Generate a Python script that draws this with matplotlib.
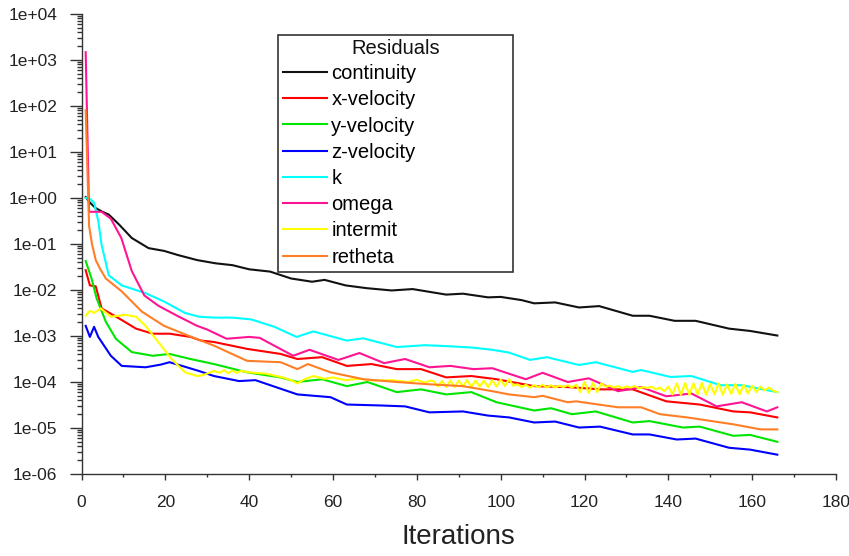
import numpy as np
import matplotlib.pyplot as plt
from matplotlib.ticker import MultipleLocator, LogLocator, FuncFormatter, NullFormatter
from matplotlib.patches import Rectangle

plt.rcParams['font.family'] = ['Liberation Sans', 'DejaVu Sans']

# residual histories, values stored as log10(residual)
cont_it = [1, 2, 3.4, 5, 6.5, 9, 12, 16, 19.7, 23, 27.6, 32, 36, 40, 45, 50, 55, 58, 63, 68, 74, 79, 87,
           91, 97, 100, 105, 108, 113, 118.7, 123.5, 131.5, 135.5, 141.5, 146.5, 154.5, 159.5, 166]
cont_lg = [0.02, -0.1, -0.22, -0.3, -0.36, -0.58, -0.87, -1.09, -1.15, -1.24, -1.35, -1.42, -1.46, -1.55,
           -1.6, -1.75, -1.82, -1.78, -1.9, -1.96, -2.01, -1.98, -2.1, -2.08, -2.16, -2.15, -2.22, -2.29,
           -2.27, -2.38, -2.35, -2.56, -2.56, -2.67, -2.67, -2.84, -2.89, -2.99]

xvel_it = [1, 2, 3.4, 4.8, 9, 13, 17, 21, 26, 28.5, 31.6, 39.5, 47.5, 51.5, 57.4, 63.3, 69.2, 75.2, 81,
           87, 93, 99, 108, 116, 124, 131.5, 139.5, 147.5, 155.5, 159.5, 166]
xvel_lg = [-1.57, -1.9, -1.92, -2.4, -2.62, -2.84, -2.95, -2.95, -3.02, -3.1, -3.13, -3.28, -3.39, -3.5,
           -3.46, -3.65, -3.61, -3.72, -3.72, -3.9, -3.87, -3.94, -4.09, -4.11, -4.16, -4.16, -4.42, -4.49,
           -4.64, -4.66, -4.77]

yvel_it = [1, 2.4, 3.6, 5.8, 8.2, 12, 17, 21, 26, 31.6, 39.5, 47.5, 51.5, 57.4, 63.3, 68.2, 75.2, 81, 87,
           93, 99, 108, 112, 117, 122.7, 131.5, 135.5, 143.5, 147.5, 155.5, 159.5, 166]
yvel_lg = [-1.37, -1.75, -2.18, -2.69, -3.06, -3.35, -3.43, -3.39, -3.5, -3.61, -3.79, -3.9, -4.0, -3.94,
           -4.09, -4.0, -4.22, -4.16, -4.27, -4.22, -4.44, -4.62, -4.57, -4.7, -4.64, -4.88, -4.85, -4.99,
           -4.97, -5.17, -5.15, -5.3]

zvel_it = [1, 2, 3, 4, 7, 9.6, 15.3, 19, 21, 24, 28, 31.6, 37.6, 41.5, 51.5, 59.4, 63.3, 71.3, 77.2, 83,
           91, 97, 102, 108, 113, 118.7, 123.7, 131.5, 135.5, 142, 146.5, 154.5, 159.5, 166]
zvel_lg = [-2.78, -3.02, -2.8, -3.02, -3.43, -3.65, -3.68, -3.62, -3.57, -3.65, -3.76, -3.87, -3.98, -3.96,
           -4.27, -4.33, -4.49, -4.51, -4.53, -4.66, -4.64, -4.73, -4.77, -4.88, -4.86, -4.99, -4.97, -5.14,
           -5.14, -5.25, -5.23, -5.43, -5.47, -5.58]

k_it = [1, 2, 3, 4, 4.8, 6.5, 9.6, 15.3, 19.7, 24.7, 28, 31.6, 36, 40.5, 46, 51.3, 55.3, 63.3, 67.2, 75.2,
        82, 87, 93, 98, 102, 107, 111, 118.7, 122.7, 131.5, 133.5, 140.5, 145.5, 152.5, 157.5, 162.5, 166]
k_lg = [0.0, -0.02, -0.1, -0.5, -1.02, -1.68, -1.9, -2.07, -2.25, -2.5, -2.58, -2.6, -2.6, -2.64, -2.8,
        -3.02, -2.9, -3.1, -3.05, -3.24, -3.2, -3.22, -3.25, -3.3, -3.36, -3.52, -3.46, -3.63, -3.57, -3.78,
        -3.74, -3.89, -3.87, -4.07, -4.07, -4.16, -4.22]

omega_it = [1, 1.8, 4.8, 7, 9.5, 12, 15, 18.3, 22.8, 27.6, 30, 34.6, 40, 42.5, 50.5, 54.4, 61.3, 66.3, 72.2,
            77.2, 83, 88, 93.5, 98, 106, 110, 116, 121, 128, 133.5, 139.5, 145.5, 151.5, 157.5, 163.5, 166]
omega_lg = [3.17, -0.3, -0.3, -0.45, -0.87, -1.59, -2.12, -2.34, -2.56, -2.78, -2.86, -3.06, -3.02, -3.04,
            -3.43, -3.3, -3.52, -3.37, -3.59, -3.5, -3.68, -3.65, -3.72, -3.7, -3.94, -3.8, -4.0, -3.92,
            -4.2, -4.11, -4.31, -4.25, -4.53, -4.44, -4.64, -4.55]

inter_it = [1, 2, 3, 4.6, 7, 10.5, 13, 15.3, 18.3, 21.5, 24.7, 27.6, 29, 31.6, 33, 34, 35, 36, 37, 38, 40,
            44, 48, 50, 51.5, 53, 55.3, 58, 60, 63, 66, 70, 74, 78, 80, 82, 83,
            84, 85, 86, 87, 88, 89, 90, 91, 92, 93, 94, 95, 96, 97, 98, 99, 100, 101, 102, 103,
            104, 105, 106, 107, 108, 109, 110, 111, 112, 113, 114, 115, 116, 117, 118,
            119, 120, 121, 122, 123, 124,
            125, 126, 127, 128, 129, 130, 131, 132, 133, 134, 135, 136, 137, 138, 139, 140,
            141, 142, 143, 144, 145, 146, 147, 148, 149, 150, 151, 152, 153, 154, 155, 156, 157, 158,
            159, 160, 161, 162, 163, 164, 165, 166]
inter_lg = [-2.56, -2.45, -2.5, -2.4, -2.58, -2.54, -2.58, -2.78, -3.13, -3.5, -3.79, -3.87, -3.85, -3.76,
            -3.8, -3.74, -3.81, -3.75, -3.8, -3.76, -3.79, -3.82, -3.9, -3.96, -4.03, -3.95, -3.87, -3.93,
            -3.9, -3.96, -3.93, -3.97, -3.96, -4.0, -3.95, -4.02, -3.97,
            -3.98, -4.10, -3.98, -4.11, -3.97, -4.11, -3.97, -4.10, -3.96, -4.11, -3.97, -4.10, -3.97,
            -4.11, -3.96, -4.10, -3.95, -4.09, -3.94, -4.08,
            -4.05, -4.11, -4.06, -4.12, -4.07, -4.11, -4.06, -4.12, -4.07, -4.12, -4.08, -4.11, -4.07,
            -4.12, -4.06,
            -4.22, -4.00, -4.24, -4.01, -4.22, -4.03,
            -4.10, -4.08, -4.12, -4.09, -4.13, -4.10, -4.12, -4.09, -4.14, -4.11, -4.13, -4.10, -4.16,
            -4.12, -4.20, -4.10,
            -4.27, -4.03, -4.28, -4.02, -4.28, -4.03, -4.27, -4.02, -4.28, -4.04, -4.27, -4.03, -4.28,
            -4.05, -4.26, -4.04, -4.27, -4.06, -4.25, -4.08, -4.22, -4.10, -4.18, -4.12, -4.19, -4.22]

ret_it = [1, 1.8, 2.5, 3.4, 4.5, 5.8, 9.6, 14.4, 19.7, 25.7, 31.6, 39.5, 47.5, 51.5, 54, 59.4, 67.3, 75.2,
          83, 91, 98, 102, 108, 110, 116, 118, 128, 133.5, 138, 144.5, 155.5, 162, 166]
ret_lg = [1.91, -0.6, -1.0, -1.35, -1.55, -1.75, -2.03, -2.47, -2.78, -3.0, -3.21, -3.54, -3.57, -3.72,
          -3.61, -3.79, -3.94, -4.0, -4.05, -4.09, -4.2, -4.27, -4.33, -4.3, -4.44, -4.42, -4.55, -4.55,
          -4.7, -4.77, -4.92, -5.03, -5.03]

series = [
    ('continuity', cont_it, cont_lg, '#111111'),
    ('x-velocity', xvel_it, xvel_lg, '#ff0000'),
    ('y-velocity', yvel_it, yvel_lg, '#00e600'),
    ('z-velocity', zvel_it, zvel_lg, '#0000ff'),
    ('k', k_it, k_lg, '#00ffff'),
    ('omega', omega_it, omega_lg, '#ff1493'),
    ('intermit', inter_it, inter_lg, '#ffff00'),
    ('retheta', ret_it, ret_lg, '#ff7f27'),
]

fig = plt.figure(figsize=(8.49, 5.56), dpi=100)
ax = fig.add_axes([81.5 / 849, 1 - 474 / 556, (836 - 81.5) / 849, (474 - 14) / 556])

for name, it, lg, col in series:
    ax.plot(it, 10 ** np.array(lg), color=col, lw=1.5, label=name)

ax.set_yscale('log')
ax.set_ylim(1e-6, 1e4)
ax.set_xlim(0, 180)
ax.xaxis.set_major_locator(MultipleLocator(20))
ax.xaxis.set_minor_locator(MultipleLocator(10))
ax.yaxis.set_major_locator(LogLocator(base=10, numticks=20))
ax.yaxis.set_minor_locator(LogLocator(base=10, subs=np.arange(2, 10), numticks=20))
ax.yaxis.set_minor_formatter(NullFormatter())
ax.yaxis.set_major_formatter(FuncFormatter(lambda v, p: f'{v:.0e}'))

for s in ['top', 'right']:
    ax.spines[s].set_visible(False)
for s in ['left', 'bottom']:
    ax.spines[s].set_color('#333333')
    ax.spines[s].set_linewidth(1.0)

ax.tick_params(axis='y', which='major', length=8.4, width=1.0, pad=9, labelsize=12.5,
               color='#333333', labelcolor='#222222')
ax.tick_params(axis='y', which='minor', length=3.6, width=1.0, color='#333333')
ax.tick_params(axis='x', which='major', length=4.3, width=1.0, pad=11, labelsize=12.5,
               color='#333333', labelcolor='#222222')
ax.tick_params(axis='x', which='minor', length=2.2, width=1.0, color='#333333')

ax.set_xlabel('Iterations', fontsize=20, labelpad=10, color='#222222')

ax.legend(loc='upper left', bbox_to_anchor=(283 / 849, 1 - 64 / 556), bbox_transform=fig.transFigure,
          frameon=False, fontsize=14.5, handlelength=2.2, handletextpad=0.2, labelspacing=0.36,
          borderpad=0, borderaxespad=0)
fig.add_artist(Rectangle((278 / 849, 1 - 272 / 556), (513 - 278) / 849, (272 - 35) / 556,
                         transform=fig.transFigure, fill=False, ec='#333333', lw=1.2))
fig.text(396 / 849, 1 - 48 / 556, 'Residuals', ha='center', va='center', fontsize=14.5, color='#111111')

fig.savefig('out.png', dpi=100)
